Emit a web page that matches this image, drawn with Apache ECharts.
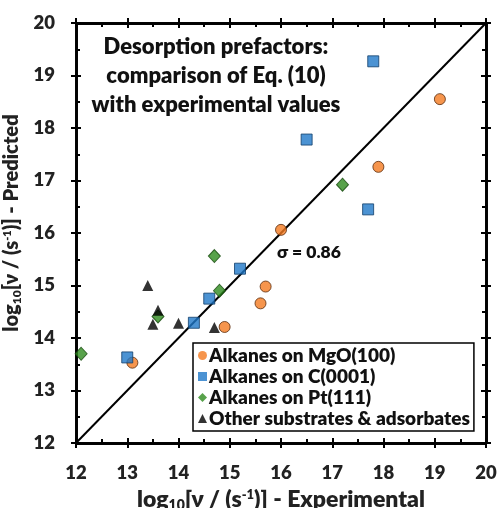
<!DOCTYPE html>
<html><head><meta charset="utf-8">
<script src="https://cdn.jsdelivr.net/npm/echarts@6/dist/echarts.min.js"></script>
<style>html,body{margin:0;padding:0;background:#fff}#c{width:500px;height:508px}</style>
</head><body><div id="c"></div>
<script>
const mgo = [[19.1,18.55],[17.9,17.26],[16.0,16.06],[15.7,14.98],[15.6,14.66],[14.9,14.21],[13.1,13.53]];
const graphite = [[17.8,19.27],[16.5,17.78],[17.7,16.45],[15.2,15.32],[14.6,14.75],[14.3,14.29],[13.0,13.63]];
const pt = [[17.2,16.92],[14.7,15.56],[14.8,14.9],[13.6,14.41],[12.1,13.7]];
const other = [[13.4,15.0],[13.6,14.53],[13.5,14.26],[14.0,14.28],[14.7,14.2]];
const parity = [[12,12],[20,20]];
const axisMin = 12, axisMax = 20;

const FONT = 'Lato';
const W = 800;
const chart = echarts.init(document.getElementById('c'));
const G = {left:76, right:14, top:23, bottom:65, outerBoundsMode:'none'};
// tick modes: 'out' | 'in' | 'none'
function ax(grid, pos, mode, labels, extra){
  return Object.assign({
    type:'value', gridIndex:grid, position:pos, min:axisMin, max:axisMax, interval:1,
    axisLine:{show:true, onZero:false, lineStyle:{color:'#000', width:2.5}},
    axisTick:{show:mode !== 'none', inside:mode === 'in', length:5, lineStyle:{color:'#000', width:2}},
    minorTick:{show:mode === 'in', splitNumber:2, length:4, lineStyle:{color:'#000', width:2}},
    axisLabel:{show:labels, color:'#222', fontFamily:FONT, fontWeight:W, fontSize:18.5, margin:21},
    splitLine:{show:false}
  }, extra||{});
}
function rich(size){
  return {
    b:{fontFamily:FONT, fontWeight:W, fontSize:size, color:'#222'},
    sub:{fontFamily:FONT, fontWeight:W, fontSize:Math.round(size*0.62), color:'#222', padding:[Math.round(size*0.5),0,0,0]},
    sup:{fontFamily:FONT, fontWeight:W, fontSize:Math.round(size*0.57), color:'#222', padding:[0,0,Math.round(size*0.42),0]}
  };
}
const option = {
  animation:false,
  grid:[0,1,2,3,4,5].map(() => Object.assign({}, G)),
  title:[{
    text:'Desorption prefactors:\ncomparison of Eq. (10)\nwith experimental values',
    left:211, top:27, textAlign:'center',
    textStyle:{fontFamily:FONT, fontWeight:W, fontSize:22, lineHeight:29, color:'#111', align:'center'}
  },{
    text:'σ = 0.86', left:272, top:238,
    textStyle:{fontFamily:FONT, fontWeight:W, fontSize:17.5, color:'#111'}
  }],
  legend:{
    orient:'vertical', left:193, top:343,
    borderColor:'#000', borderWidth:1.5, padding:[3,4,3,5],
    itemGap:2, itemWidth:9, itemHeight:9,
    textStyle:{fontFamily:FONT, fontWeight:W, fontSize:19, lineHeight:19, color:'#111', padding:[0,0,0,-3]},
    data:[
      {name:'Alkanes on MgO(100)', icon:'circle', itemStyle:{borderWidth:0}},
      {name:'Alkanes on C(0001)', icon:'rect', itemStyle:{borderWidth:0}},
      {name:'Alkanes on Pt(111)', icon:'diamond', itemStyle:{borderWidth:0}},
      {name:'Other substrates & adsorbates', icon:'triangle', itemStyle:{borderWidth:0}}
    ]
  },
  xAxis:[
    ax(0, 'bottom', 'in', true, {
      name:'{b|log}{sub|10}{b|[ν / (s}{sup|-1}{b|)] - Experimental}',
      nameLocation:'middle', nameGap:37, nameTextStyle:{rich:rich(23)}
    }),
    ax(1, 'top', 'in', false),
    ax(2, 'bottom', 'out', false),
    ax(3, 'top', 'out', false),
    ax(4, 'bottom', 'none', false),
    ax(5, 'top', 'none', false)
  ],
  yAxis:[
    ax(0, 'left', 'in', true, {
      name:'{b|log}{sub|10}{b|[ν / (s}{sup|-1}{b|)] - Predicted}',
      nameLocation:'middle', nameGap:49, nameRotate:90,
      nameTextStyle:{rich:rich(20), padding:[0,0,0,20]}
    }),
    ax(1, 'right', 'in', false),
    ax(2, 'left', 'none', false),
    ax(3, 'right', 'none', false),
    ax(4, 'left', 'out', false),
    ax(5, 'right', 'out', false)
  ],
  series:[
    {type:'line', data:parity, symbol:'none', lineStyle:{color:'#000', width:2}, silent:true, z:1},
    {name:'Alkanes on MgO(100)', type:'scatter', data:mgo, symbol:'circle', symbolSize:11,
      itemStyle:{color:'#F47B20', borderColor:'#5a2a0a', borderWidth:1}, z:3},
    {name:'Alkanes on C(0001)', type:'scatter', data:graphite, symbol:'rect', symbolSize:11,
      itemStyle:{color:'#1F78C8', borderColor:'#123f6a', borderWidth:1}, z:3},
    {name:'Alkanes on Pt(111)', type:'scatter', data:pt, symbol:'diamond', symbolSize:[12,13],
      itemStyle:{color:'#2E8B1E', borderColor:'#164a0e', borderWidth:1}, z:3},
    {name:'Other substrates & adsorbates', type:'scatter', data:other, symbol:'triangle', symbolSize:[11,11],
      itemStyle:{color:'#000'}, z:3}
  ]
};
chart.setOption(option);
</script></body></html>
